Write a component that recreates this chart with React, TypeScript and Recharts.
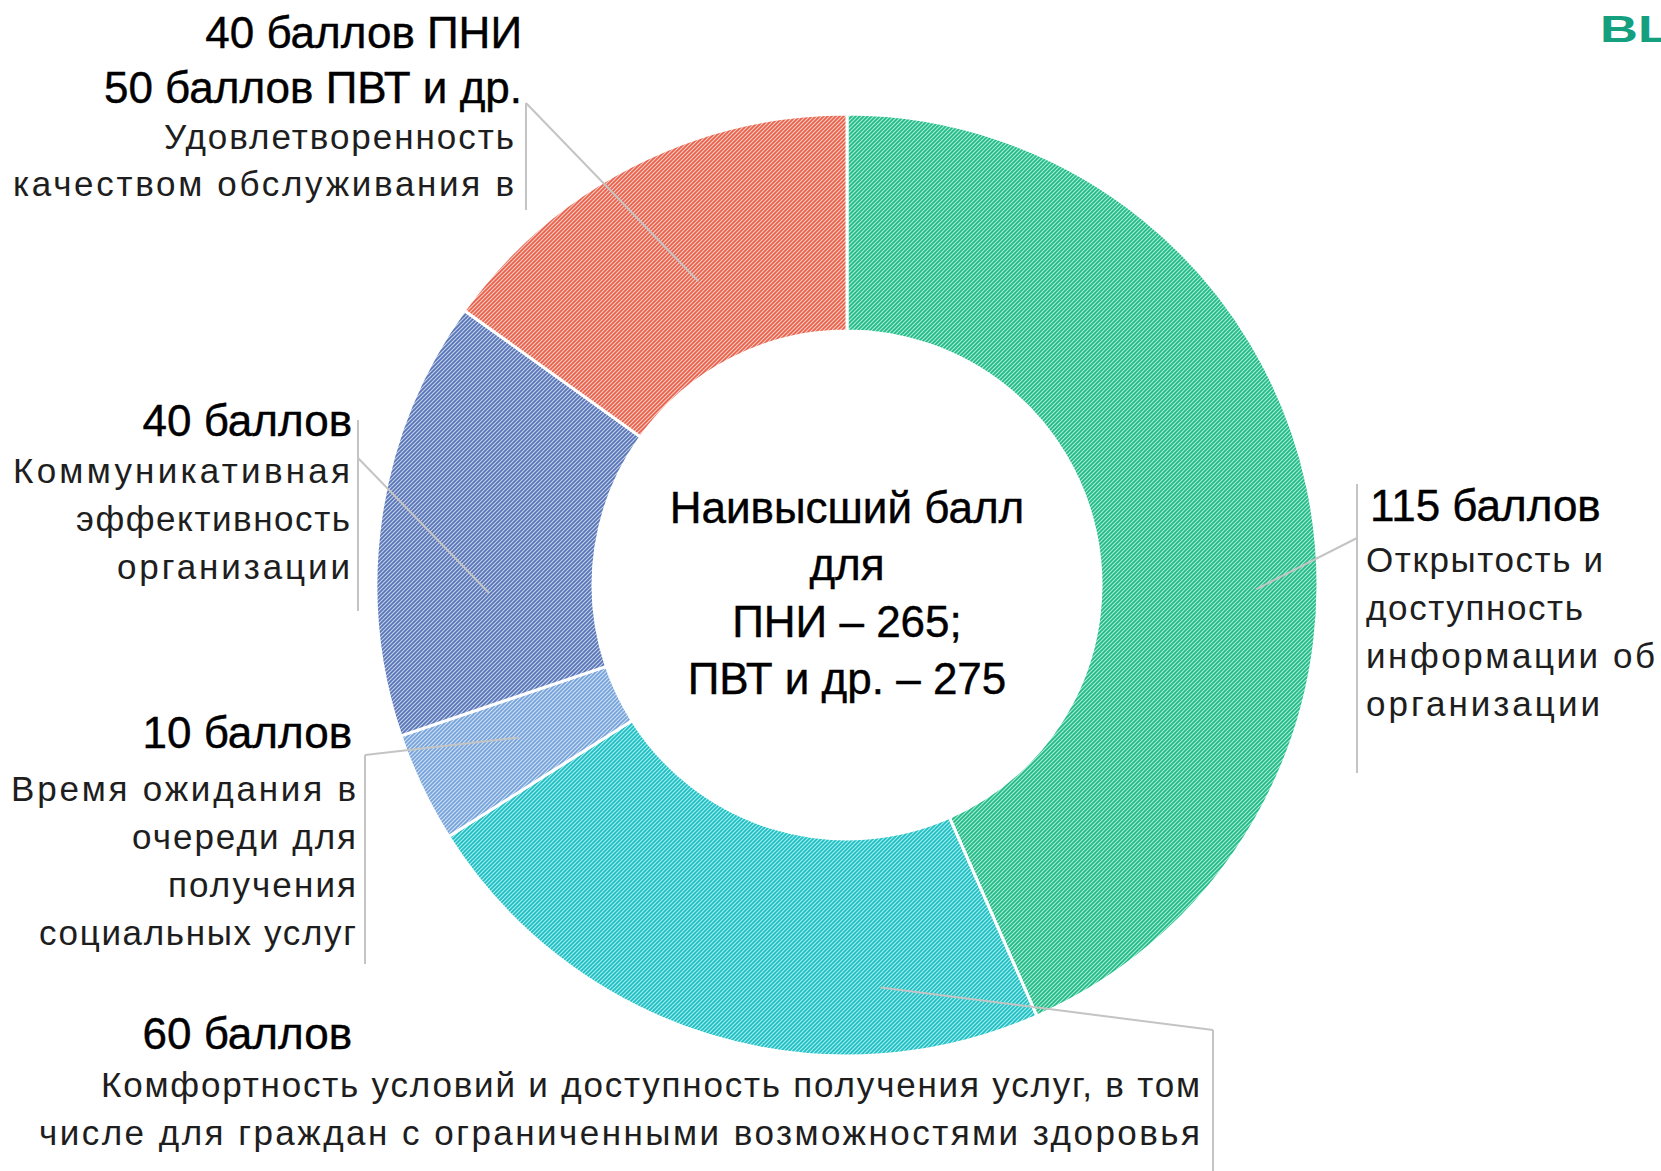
import { PieChart, Pie, Cell } from 'recharts';

// баллы по критериям, по часовой стрелке от 12 часов
const criteria = [
  'Открытость и доступность информации об организации',
  'Комфортность условий и доступность получения услуг',
  'Время ожидания в очереди для получения социальных услуг',
  'Коммуникативная эффективность организации',
  'Удовлетворенность качеством обслуживания',
];
const points = [115, 60, 10, 40, 40];

const headLines = [
  ['115 баллов'],
  ['60 баллов'],
  ['10 баллов'],
  ['40 баллов'],
  ['40 баллов ПНИ', '50 баллов ПВТ и др.'],
];
const bodyLines = [
  ['Открытость и', 'доступность', 'информации об', 'организации'],
  ['Комфортность условий и доступность получения услуг, в том', 'числе для граждан с ограниченными возможностями здоровья'],
  ['Время ожидания в', 'очереди для', 'получения', 'социальных услуг'],
  ['Коммуникативная', 'эффективность', 'организации'],
  ['Удовлетворенность', 'качеством обслуживания в'],
];
const centerLines = ['Наивысший балл', 'для', 'ПНИ – 265;', 'ПВТ и др. – 275'];

// base / stripe colours of the hatched fills
const palette = [
  { bg: '#a6eed4', fg: '#22b987' },
  { bg: '#a4f0f0', fg: '#1fbcc2' },
  { bg: '#cfe1f6', fg: '#76a2da' },
  { bg: '#c4d0ea', fg: '#5674b6' },
  { bg: '#fbcec5', fg: '#e95f49' },
];

const layout = [
  { frac: 0.58, r: 409, elbow: [1357, 538], bar: [484, 773], headX: 1370, bodyX: 1366, anchor: 'start', headY: 521, bodyY: 572, step: 48, widths: [237, 217, 289, 234] },
  { frac: 0.233, r: 404, elbow: [1213, 1030], bar: [1030, 1171], headX: 352, bodyX: 1200, anchor: 'end', headY: 1049, bodyY: 1097, step: 48, widths: [1099, 1161] },
  { frac: 0.54, r: 362, elbow: [365, 755], bar: [755, 964], headX: 352, bodyX: 356, anchor: 'end', headY: 748, bodyY: 801, step: 48, widths: [345, 224, 188, 317] },
  { frac: 0.32, r: 358, elbow: [358, 458], bar: [420, 611], headX: 352, bodyX: 350, anchor: 'end', headY: 436, bodyY: 483, step: 48, widths: [337, 274, 233] },
  { frac: 0.52, r: 338, elbow: [526, 103], bar: [103, 210], headX: 522, bodyX: 514, anchor: 'end', headY: 48, bodyY: 149, step: 47, widths: [350, 501] },
];

const data = criteria.map((name, i) => ({ name, value: points[i] }));

const RAD = Math.PI / 180;
const FONT = '"Liberation Sans", Arial, sans-serif';

const renderLabel = (props: any) => {
  const { cx, cy, startAngle, endAngle, index } = props;
  const l = layout[index];
  const a = startAngle + l.frac * (endAngle - startAngle);
  const ax = cx + l.r * Math.cos(-a * RAD);
  const ay = cy + l.r * Math.sin(-a * RAD);
  return (
    <g key={`lbl-${index}`}>
      <line x1={ax} y1={ay} x2={l.elbow[0]} y2={l.elbow[1]} stroke="#c4c4c4" strokeWidth={2} />
      <line x1={l.elbow[0]} y1={l.bar[0]} x2={l.elbow[0]} y2={l.bar[1]} stroke="#c4c4c4" strokeWidth={2} />
      {headLines[index].map((t, j) => (
        <text key={`h${j}`} x={l.headX} y={l.headY + j * 55} textAnchor={l.anchor} fontSize={44} fill="#000" fontFamily={FONT} stroke="#000" strokeWidth={0.4}>
          {t}
        </text>
      ))}
      {bodyLines[index].map((t, j) => (
        <text
          key={`b${j}`}
          x={l.bodyX}
          y={l.bodyY + j * l.step}
          textAnchor={l.anchor}
          fontSize={35}
          fill="#1e1e1e"
          fontFamily={FONT}
          textLength={l.widths[j]}
          lengthAdjust="spacing"
        >
          {t}
        </text>
      ))}
    </g>
  );
};

export default function App() {
  return (
    <div style={{ width: 1661, height: 1171, background: '#fff', position: 'relative', overflow: 'hidden' }}>
      <style>{`body{margin:0}`}</style>
      <PieChart width={1661} height={1171} margin={{ top: 0, right: 0, bottom: 0, left: 0 }}>
        <defs>
          {palette.map((c, i) => (
            <pattern key={i} id={`hatch${i}`} width={4} height={4} patternUnits="userSpaceOnUse">
              <rect width={4} height={4} fill={c.bg} />
              <path d="M-1,1 L1,-1 M0,4 L4,0 M3,5 L5,3" stroke={c.fg} strokeWidth={1.7} />
            </pattern>
          ))}
        </defs>
        <Pie
          data={data}
          dataKey="value"
          nameKey="name"
          cx={847}
          cy={585}
          innerRadius={254}
          outerRadius={471}
          startAngle={90}
          endAngle={-270}
          stroke="#fff"
          strokeWidth={3}
          label={renderLabel}
          labelLine={false}
          isAnimationActive={false}
        >
          {data.map((d, i) => (
            <Cell key={d.name} fill={`url(#hatch${i})`} />
          ))}
        </Pie>
        {centerLines.map((t, j) => (
          <text key={t} x={847} y={523 + j * 57} textAnchor="middle" fontSize={44} fill="#000" fontFamily={FONT} stroke="#000" strokeWidth={0.4}>
            {t}
          </text>
        ))}
        <text x={1600} y={42} fontSize={36} fontWeight="bold" fill="#14a07f" fontFamily={FONT} textLength={70} lengthAdjust="spacingAndGlyphs">
          BL
        </text>
      </PieChart>
    </div>
  );
}
